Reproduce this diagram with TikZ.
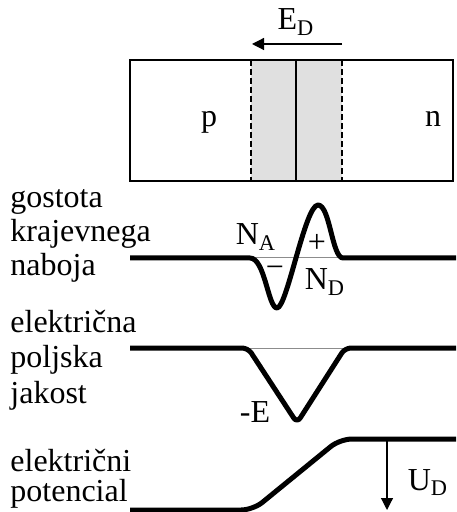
\documentclass[tikz,border=0pt]{standalone}
\usepackage{fontspec}
\setmainfont{Liberation Serif}
\usetikzlibrary{arrows.meta,positioning}
\tikzset{
  txt/.style   = {font=\fontsize{16}{17}\selectfont, inner sep=0pt},
  side/.style  = {txt, align=left, anchor=base west},
  curve/.style = {line width=2.5pt, line join=round, line cap=butt},
  zero/.style  = {draw=black!45, line width=0.5pt},
  edge/.style  = {line width=0.75pt},
  fa/.style    = {-{Triangle[length=6pt,width=6pt]}, line width=0.6pt},
}

\begin{document}
\begin{tikzpicture}[x=0.5pt, y=-0.5pt]
  \useasboundingbox (0,0) rectangle (456,512);

  % diode
  \fill[black!12] (251,60) rectangle (342,181);
  \draw[edge] (130,60) rectangle (453,181);
  \draw[edge, dashed, dash pattern=on 3pt off 1.5pt] (251,60) -- (251,181);
  \draw[edge, dashed, dash pattern=on 3pt off 1.5pt] (342,60) -- (342,181);
  \draw[edge] (296,60) -- (296,181);
  \node[txt, anchor=base] (p) at (209,127) {p};
  \node[txt, anchor=base] (n) at (433,127) {n};

  \coordinate (ea) at (342,44);
  \coordinate (eb) at (252,44);
  \draw[fa] (ea) -- (eb);
  \node[txt, anchor=base] (ed) at (296,30) {E\textsubscript{D}};

  % charge density
  \node[side] (rho) at (10,276) {gostota\\krajevnega\\naboja};
  \draw[zero] (250,258) -- (343,258);
  \draw[curve] (130,258) -- (250,258)
    .. controls (265,258) and (268,308) .. (277,308)
    .. controls (287,308) and (305,205) .. (318,205)
    .. controls (330,205) and (332,258) .. (343,258) -- (456,258);
  \node[txt, anchor=base] (na) at (256,245) {N\textsubscript{A}};
  \node[txt] (plus) at (317,243) {+};
  \node[txt] (minus) at (275,272) {\textminus};
  \node[txt, anchor=base] (nd) at (325,290) {N\textsubscript{D}};

  % field
  \node[side, font=\fontsize{16}{17.7}\selectfont] (field) at (10,403)
    {električna\\poljska\\jakost};
  \draw[zero] (248,348) -- (345,348);
  \draw[curve, rounded corners=3pt] (130,348) -- (248,348) -- (297,423)
    -- (345,348) -- (456,348);
  \node[txt, anchor=base] (me) at (255,422) {-E};

  % potential
  \node[side, font=\fontsize{16}{15}\selectfont] (pot) at (10,501)
    {električni\\potencial};
  \draw[curve, rounded corners=6pt] (130,510) -- (253,510) -- (340,439)
    -- (456,439);
  \coordinate (ua) at (387,439);
  \coordinate (ub) at (387,510);
  \draw[fa] (ua) -- (ub);
  \node[txt, anchor=base] (ud) at (428,490) {U\textsubscript{D}};
\end{tikzpicture}
\end{document}
